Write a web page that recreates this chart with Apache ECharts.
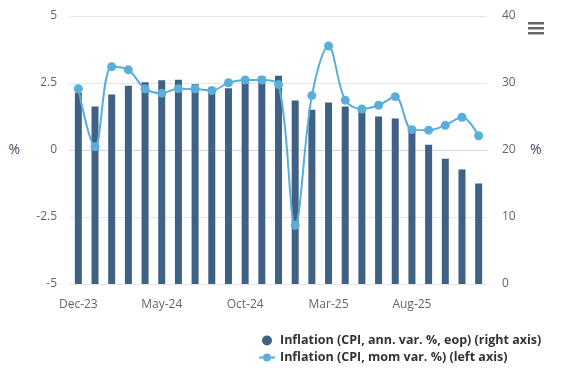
<!DOCTYPE html>
<html>
<head>
<meta charset="utf-8">
<script src="https://cdn.jsdelivr.net/npm/echarts@6/dist/echarts.min.js"></script>
<style>html,body{margin:0;padding:0;background:#fff}#c{width:582px;height:379px}</style>
</head>
<body>
<div id="c"></div>
<script>
const categories = ["Dec-23","Jan-24","Feb-24","Mar-24","Apr-24","May-24","Jun-24","Jul-24","Aug-24","Sep-24","Oct-24","Nov-24","Dec-24","Jan-25","Feb-25","Mar-25","Apr-25","May-25","Jun-25","Jul-25","Aug-25","Sep-25","Oct-25","Nov-25","Dec-25"];
const annualCPI = [28.6,26.5,28.3,29.6,30.1,30.4,30.5,29.8,28.8,29.2,30.3,31.0,31.1,27.4,26.0,27.1,26.5,25.9,25.0,24.7,22.8,20.8,18.7,17.1,15.0];
const momCPI = [2.29,0.12,3.11,2.99,2.28,2.12,2.29,2.28,2.22,2.51,2.61,2.61,2.44,-2.81,2.03,3.88,1.86,1.53,1.67,1.99,0.76,0.74,0.92,1.22,0.53];
const leftTicks = {min:-5,max:5,interval:2.5};
const rightTicks = {min:0,max:40,interval:10};
const barName = "Inflation (CPI, ann. var. %, eop) (right axis)";
const lineName = "Inflation (CPI, mom var. %) (left axis)";

const font = "Open Sans";
const chart = echarts.init(document.getElementById('c'), null, {renderer:'canvas'});
chart.setOption({
  animation:false,
  textStyle:{fontFamily:font},
  grid:{left:70,right:95,top:16,bottom:95,containLabel:false},
  legend:{
    orient:'vertical', left:253, top:329, itemGap:4, itemWidth:16, itemHeight:10,
    textStyle:{fontFamily:font,fontWeight:'bold',fontSize:12.5,color:'#333'},
    data:[{name:barName,icon:'circle'},{name:lineName}]
  },
  graphic:[
    {type:'rect',shape:{x:528,y:22,width:16,height:2.5},style:{fill:'#666'}},
    {type:'rect',shape:{x:528,y:27,width:16,height:2.5},style:{fill:'#666'}},
    {type:'rect',shape:{x:528,y:32,width:16,height:2.5},style:{fill:'#666'}}
  ],
  xAxis:{
    type:'category', data:categories, boundaryGap:true,
    axisLine:{show:true,lineStyle:{color:'#ccd6eb'}},
    axisTick:{show:false},
    axisLabel:{interval:4,color:'#666',fontSize:12,margin:15,fontFamily:font}
  },
  yAxis:[
    {type:'value',position:'left',min:leftTicks.min,max:leftTicks.max,interval:leftTicks.interval,
     name:'%',nameLocation:'middle',nameGap:50,nameRotate:0,
     nameTextStyle:{color:'#3d4f66',fontSize:14,fontFamily:font},
     axisLabel:{color:'#666',fontSize:12,margin:13,fontFamily:font},
     axisLine:{show:false},axisTick:{show:false},
     splitLine:{lineStyle:{color:'#e6e6e6'}}},
    {type:'value',position:'right',min:rightTicks.min,max:rightTicks.max,interval:rightTicks.interval,
     name:'%',nameLocation:'middle',nameGap:43,nameRotate:0,
     nameTextStyle:{color:'#3d4f66',fontSize:14,fontFamily:font},
     axisLabel:{color:'#666',fontSize:12,margin:15,fontFamily:font},
     axisLine:{show:false},axisTick:{show:false},
     splitLine:{show:false}}
  ],
  series:[
    {name:barName,type:'bar',yAxisIndex:1,data:annualCPI,barWidth:7,
     itemStyle:{color:'#3e6184'}},
    {name:lineName,type:'line',yAxisIndex:0,data:momCPI,smooth:0.35,
     symbol:'circle',symbolSize:9,
     lineStyle:{color:'#5aaedb',width:2},itemStyle:{color:'#5aaedb'}}
  ]
});
</script>
</body>
</html>
